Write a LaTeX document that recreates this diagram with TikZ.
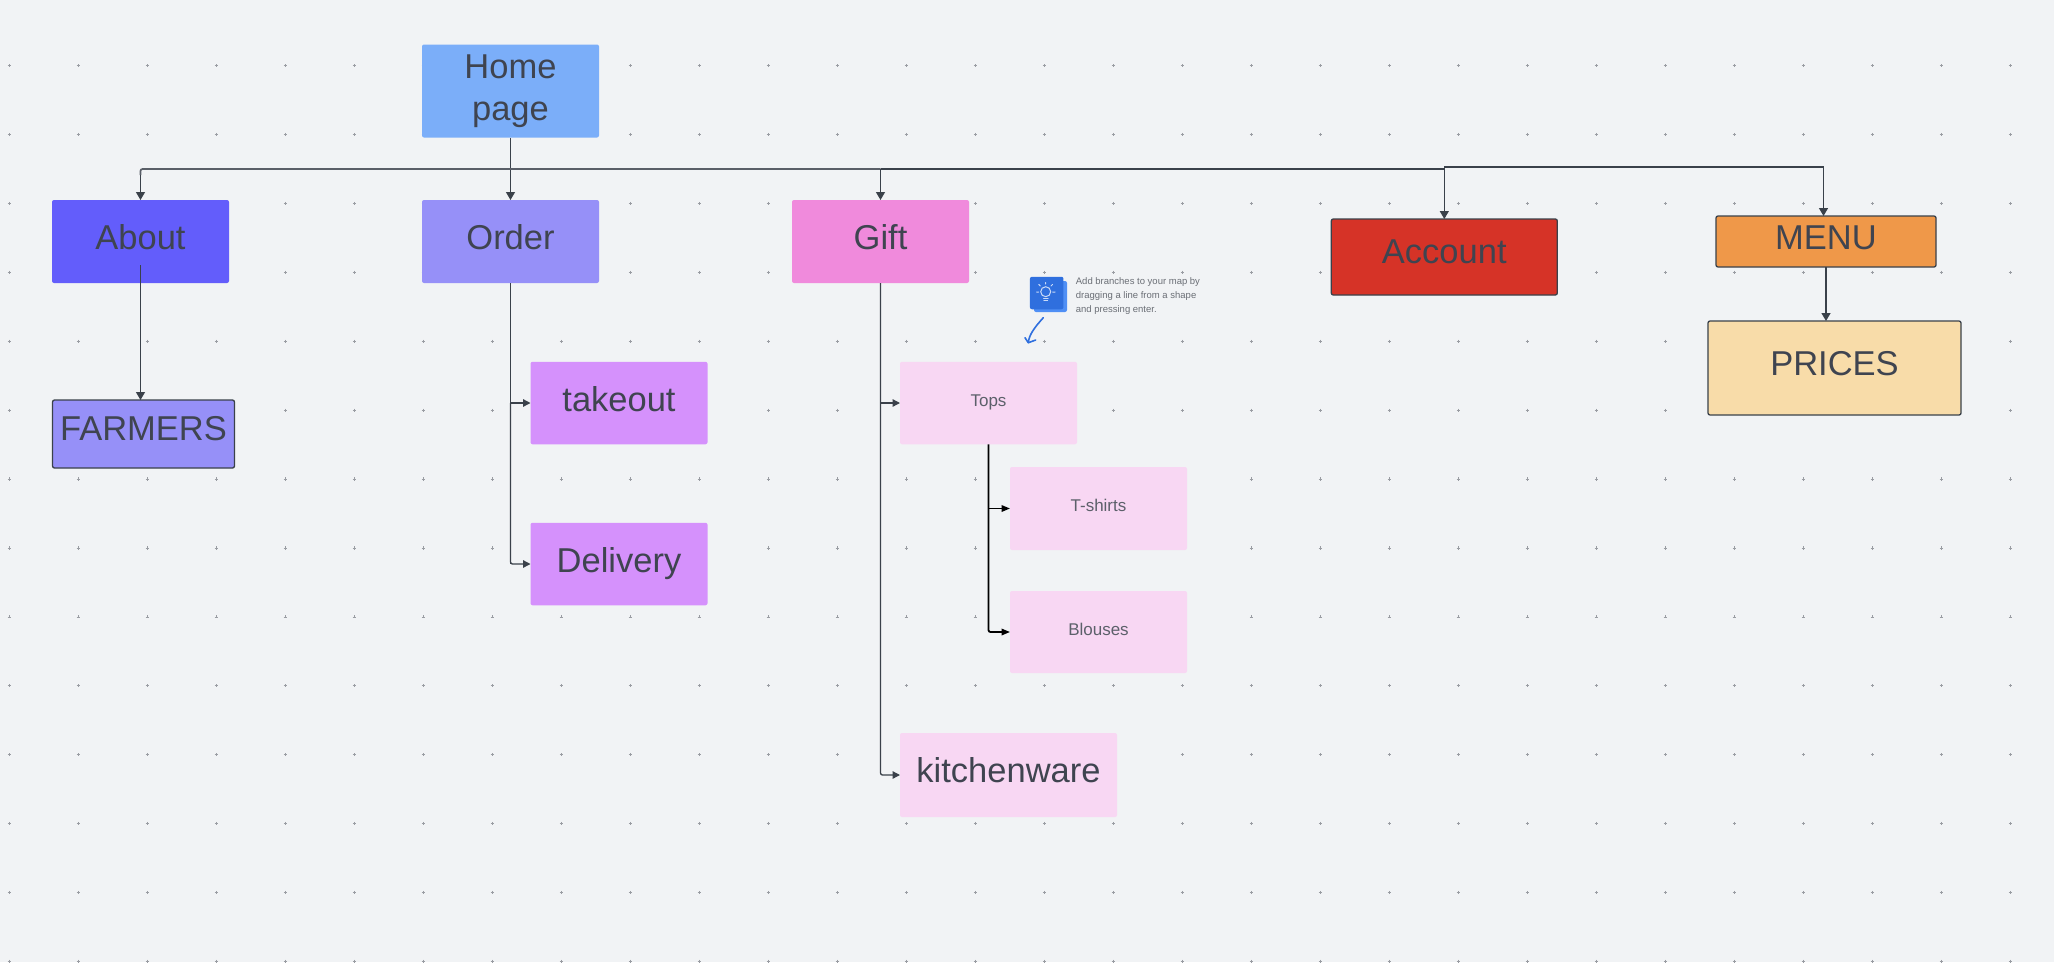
\documentclass[tikz,border=0pt]{standalone}
\usepackage{fontspec}
\setmainfont{Liberation Sans}
\usetikzlibrary{arrows.meta}
\definecolor{bgc}{HTML}{F1F3F5}
\definecolor{dotc}{HTML}{9A9DA3}
\definecolor{inkc}{HTML}{3F4450}
\definecolor{linec}{HTML}{3A414A}
\definecolor{busc}{HTML}{5A5F68}
\definecolor{homec}{HTML}{7BAEF9}
\definecolor{aboutc}{HTML}{635DFB}
\definecolor{orderc}{HTML}{9690F8}
\definecolor{giftc}{HTML}{F08ADC}
\definecolor{accountc}{HTML}{D63327}
\definecolor{menuc}{HTML}{EF9849}
\definecolor{pricesc}{HTML}{F8DCA9}
\definecolor{violetc}{HTML}{D591FC}
\definecolor{pinkc}{HTML}{F8D7F3}
\definecolor{tipc}{HTML}{2F6FDE}
\definecolor{tipbackc}{HTML}{4F8FF5}
\definecolor{tiptextc}{HTML}{6B6F76}
\newcommand\lbl[3]{\smash{\makebox[0pt][c]{\hspace*{#1}\raisebox{#2}{#3}}}}
\tikzset{
  boxbase/.style={rectangle,rounded corners=2pt,inner sep=0pt,outer sep=0pt,text=inkc},
  bigbox/.style={boxbase,fill=#1,font=\fontsize{34.5}{42}\selectfont},
  outlined/.style={bigbox=#1,draw=linec,line width=1.3pt},
  smallbox/.style={boxbase,fill=pinkc,text=inkc!85,font=\fontsize{17}{20}\selectfont},
  griddot/.style={draw=dotc,line width=0.6pt},
  conn/.style={draw=linec,line width=1.3pt,-{Triangle[width=9pt,length=8pt]}},
  sideconn/.style={draw=linec,line width=1.3pt,-{Triangle[width=7.5pt,length=7.5pt]}},
  plainconn/.style={draw=linec,line width=1.1pt},
  busline/.style={draw=busc,line width=1.7pt,rounded corners=2pt},
  blackconn/.style={draw=black,line width=1.8pt,-{Triangle[width=6.5pt,length=8.5pt]},rounded corners=2pt},
}
\begin{document}
\begin{tikzpicture}[x=1pt,y=-1pt]
\useasboundingbox (0,0) rectangle (2054,962);
\fill[bgc] (0,0) rectangle (2054,962);
\foreach \i in {0,...,29}{
  \foreach \j in {0,...,13}{
    \pgfmathsetmacro{\px}{9.3+69*\i}
    \pgfmathsetmacro{\py}{65.6+68.9*\j}
    \draw[griddot] (\px-1.6,\py) -- (\px+1.6,\py) (\px,\py-1.6) -- (\px,\py+1.6);
  }
}
% boxes
\node[bigbox=homec,minimum width=177pt,minimum height=93pt,align=center] (home) at (510.5,91) {\raisebox{5pt}{Home}\\\raisebox{5pt}{page}};
\node[bigbox=aboutc,minimum width=177pt,minimum height=83pt] (about) at (140.5,241.5) {\lbl{0pt}{-7.5pt}{About}};
\node[bigbox=orderc,minimum width=177pt,minimum height=83pt] (order) at (510.5,241.5) {\lbl{0pt}{-7.5pt}{Order}};
\node[bigbox=giftc,minimum width=177pt,minimum height=83pt] (gift) at (880.5,241.5) {\lbl{0pt}{-7.5pt}{Gift}};
\node[outlined=accountc,minimum width=226pt,minimum height=76pt] (account) at (1444.3,257) {\lbl{0pt}{-6pt}{Account}};
\node[outlined=menuc,minimum width=220pt,minimum height=51pt] (menu) at (1826,241.5) {\lbl{0pt}{-7.5pt}{MENU}};
\node[outlined=pricesc,minimum width=253pt,minimum height=94pt] (prices) at (1834.5,368) {\lbl{0pt}{-7pt}{PRICES}};
\node[outlined=orderc,minimum width=182pt,minimum height=68pt] (farmers) at (143.5,434) {\lbl{0pt}{-6pt}{FARMERS}};
\node[bigbox=violetc,minimum width=177pt,minimum height=82.5pt] (takeout) at (619,403) {\lbl{0pt}{-8pt}{takeout}};
\node[bigbox=violetc,minimum width=177pt,minimum height=82.5pt] (delivery) at (619,564) {\lbl{0pt}{-8pt}{Delivery}};
\node[smallbox,minimum width=177pt,minimum height=82.5pt] (tops) at (988.5,403) {\lbl{0pt}{-3pt}{Tops}};
\node[smallbox,minimum width=177pt,minimum height=83pt] (tshirts) at (1098.5,508.5) {\lbl{0pt}{-3pt}{T-shirts}};
\node[smallbox,minimum width=177pt,minimum height=82pt] (blouses) at (1098.5,632) {\lbl{0pt}{-3pt}{Blouses}};
\node[bigbox=pinkc,minimum width=217pt,minimum height=84pt] (kitchen) at (1008.5,775) {\lbl{0pt}{-7pt}{kitchenware}};
% connector helper coordinates
\coordinate (busHome) at (510.5,169);
\coordinate (busGift) at (880.5,169);
\coordinate (busAcc) at (1444.3,169);
\coordinate (busAccTop) at (1444.3,166.5);
\coordinate (busMenu) at (1823.5,167);
\coordinate (aboutBus) at (140.5,175);
\coordinate (aboutStart) at (140.5,265);
\coordinate (orderTake) at (510.5,403);
\coordinate (giftTops) at (880.5,403);
\coordinate (topsShirt) at (988.5,508.5);
% connectors
\draw[conn] (home.south) -- (order.north);
\draw[busline] (busGift) -- (busHome) -| (aboutBus);
\draw[conn] (aboutBus) -- (about.north);
\draw[plainconn] (busGift) -- (busAcc);
\draw[conn] (busGift) -- (gift.north);
\draw[conn] (busAccTop) -- (account.north);
\draw[plainconn] (busAccTop |- busMenu) -- (busMenu);
\draw[conn] (busMenu) -- (busMenu |- menu.north);
\draw[conn] (menu.south) -- (menu.south |- prices.north);
\draw[conn] (aboutStart) -- (aboutStart |- farmers.north);
\draw[plainconn] (order.south) -- (order.south |- delivery.west);
\draw[sideconn,rounded corners=2pt] (order.south |- takeout.west) -- (takeout.west);
\draw[sideconn,rounded corners=2pt] (orderTake) |- (delivery.west);
\draw[sideconn,rounded corners=2pt] (gift.south) |- (kitchen.west);
\draw[sideconn] (giftTops) -- (tops.west);
\draw[blackconn] (tops.south) |- (blouses.west);
\draw[blackconn] (topsShirt) -- (tshirts.west);
% tip
\fill[tipbackc,rounded corners=2pt] (1034,281) rectangle (1067,312);
\node[rectangle,fill=tipc,rounded corners=2pt,inner sep=0pt,minimum width=33.5pt,minimum height=32.5pt] (tipicon) at (1046.7,293) {};
\begin{scope}[draw=white!75!tipc,line width=1pt,line cap=round]
  \draw (1045.7,291.7) circle (5pt);
  \draw (1043.5,298) -- (1048,298) (1043.8,300.5) -- (1047.7,300.5);
  \draw (1036.5,292) -- (1038.5,292) (1052.5,292) -- (1055,292) (1045.7,282.5) -- (1045.7,284)
        (1038.8,284.5) -- (1040.3,286) (1052.5,284.5) -- (1051,286);
\end{scope}
\node[anchor=west,align=left,inner sep=0pt,text=tiptextc,font=\fontsize{9.5}{14}\selectfont] (tiptext) at (1075.7,296.5) {Add branches to your map by\\dragging a line from a shape\\and pressing enter.};
\coordinate (tipStart) at (1043.3,317.7);
\coordinate (tipEnd) at (1028.3,342.7);
\draw[draw=tipc,line width=1.6pt,line cap=round] (tipStart) .. controls (1034,328) and (1029,335) .. (tipEnd);
\draw[draw=tipc,line width=1.6pt,line cap=round,line join=round] (1025,337.7) -- (tipEnd) -- (1035.7,340);
\end{tikzpicture}
\end{document}
